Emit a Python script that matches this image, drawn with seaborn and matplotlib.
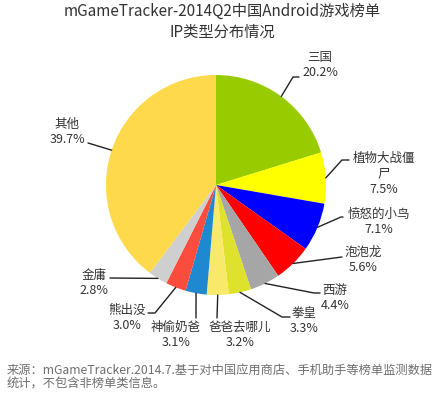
import numpy as np
import matplotlib
matplotlib.use("Agg")
import matplotlib.pyplot as plt
import seaborn as sns

# ---- data ----
categories = ["三国", "植物大战僵\n尸", "愤怒的小鸟", "泡泡龙", "西游", "拳皇",
              "爸爸去哪儿", "神偷奶爸", "熊出没", "金庸", "其他"]
values = [20.2, 7.5, 7.1, 5.6, 4.4, 3.3, 3.2, 3.1, 3.0, 2.8, 39.7]
pct_labels = ["20.2%", "7.5%", "7.1%", "5.6%", "4.4%", "3.3%", "3.2%",
              "3.1%", "3.0%", "2.8%", "39.7%"]
colors = ["#99cc00", "#ffff00", "#0000ff", "#ff0000", "#a6a6a6", "#dfe22c",
          "#f8e96a", "#1e88d0", "#fb4c3e", "#cfcfcf", "#fdd94b"]
title = "mGameTracker-2014Q2中国Android游戏榜单\nIP类型分布情况"
footer = ("来源：mGameTracker.2014.7.基于对中国应用商店、手机助手等榜单监测数据\n"
          "统计，不包含非榜单类信息。")

# ---- layout (pixels in a 438x395 canvas) ----
W, H = 438, 395
CX, CY, R = 216, 185, 110
label_pos = [(320, 65), (384, 174), (379, 222), (363, 260), (335, 298),
             (304, 321), (240, 335), (176, 335), (127, 318), (94, 283), (67, 132)]
elbows = [((293, 77), (299, 77)), ((342, 160), (349, 160)), ((341, 217), (343, 217)),
          ((342, 257), (342, 257)), ((314, 293), (320, 293)), ((282, 317), (290, 317)),
          ((217, 318), (217, 318)), ((196, 318), (196, 318)), ((155, 313), (148, 313)),
          ((110, 278), (110, 278)), ((88, 143), (88, 143))]

sns.set_theme(style="white")
plt.rcParams['font.family'] = ['Noto Sans CJK SC', 'DejaVu Sans']

fig = plt.figure(figsize=(W / 100, H / 100), dpi=100)
fig.patch.set_facecolor("white")
ax = fig.add_axes([0, 0, 1, 1])

# y axis is inverted (pixel style), so data-counterclockwise looks clockwise
wedges, _ = ax.pie(values, colors=colors, startangle=-90, counterclock=True,
                   center=(CX, CY), radius=R, frame=True,
                   wedgeprops=dict(linewidth=0))
ax.set_xlim(0, W)
ax.set_ylim(H, 0)
ax.set_aspect("auto")
ax.axis("off")

total = sum(values)
cum = 0.0
for i, v in enumerate(values):
    mid = cum + v / 2
    cum += v
    ang = np.deg2rad(-90 + 360 * mid / total)
    ex = CX + R * np.cos(ang)
    ey = CY + R * np.sin(ang)
    (e1, e2) = elbows[i]
    ax.plot([ex, e1[0], e2[0]], [ey, e1[1], e2[1]], color="#222222", lw=1.0)
    tx, ty = label_pos[i]
    ax.text(tx, ty, categories[i] + "\n" + pct_labels[i], ha="center", va="center",
            fontsize=9, color="#333333", linespacing=1.25)

fig.text(0.507, 1 - 22 / H, title, ha="center", va="center", fontsize=11,
         color="#333333", linespacing=1.3, fontweight="medium")
fig.text(7 / W, 1 - 377 / H, footer, ha="left", va="center", fontsize=8.8,
         color="#6e6e6e", linespacing=1.1)

fig.savefig("out.png", dpi=100, facecolor="white")
